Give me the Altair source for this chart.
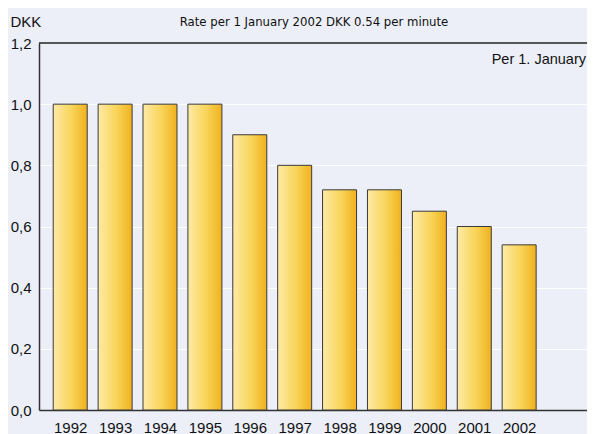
import altair as alt
import pandas as pd

years = [1992, 1993, 1994, 1995, 1996, 1997, 1998, 1999, 2000, 2001, 2002]
rates = [1.00, 1.00, 1.00, 1.00, 0.90, 0.80, 0.72, 0.72, 0.65, 0.60, 0.54]
y_ticks = [0.0, 0.2, 0.4, 0.6, 0.8, 1.0, 1.2]

df = pd.DataFrame({"year": years, "rate": rates})

BG = "#ECEFF7"
FONT = "Liberation Sans"
W, H = 548, 367

xscale = alt.Scale(domain=[1991.416, 2003.40], nice=False, zero=False)
yscale = alt.Scale(domain=[0, 1.2], nice=False)

grad = alt.Gradient(
    gradient="linear",
    stops=[
        alt.GradientStop(color="#FDEAA6", offset=0),
        alt.GradientStop(color="#F8D458", offset=0.55),
        alt.GradientStop(color="#F0B11E", offset=1),
    ],
    x1=0, x2=1, y1=0, y2=0,
)

bars = alt.Chart(df).mark_bar(width=34, color=grad, stroke="#3a3a3a", strokeWidth=1).encode(
    x=alt.X("year:Q", scale=xscale,
            axis=alt.Axis(values=years, format="d", title=None, grid=False, ticks=False,
                          domainColor="#333333", domainWidth=1.5, labelPadding=10,
                          labelFontSize=15, labelColor="#111111", labelFont=FONT)),
    y=alt.Y("rate:Q", scale=yscale,
            axis=alt.Axis(values=y_ticks, title="DKK", titleAngle=0, titleX=-29, titleY=-22,
                          titleAlign="left", titleBaseline="middle", titleFontSize=15,
                          titleFontWeight="normal", titleFont=FONT, titleColor="#111111",
                          labelExpr="replace(format(datum.value, '.1f'), '.', ',')",
                          grid=True, gridColor="#FFFFFF", gridWidth=1.2, ticks=False,
                          domainColor="#333333", domainWidth=1.5, labelPadding=8,
                          labelFontSize=15, labelColor="#111111", labelFont=FONT)),
)

top = alt.Chart(pd.DataFrame({"v": [1.2]})).mark_rule(color="#222222", strokeWidth=1.5).encode(
    y=alt.Y("v:Q", scale=yscale)
)

note = alt.Chart(pd.DataFrame({"t": ["Per 1. January"]})).mark_text(
    align="right", baseline="middle", fontSize=14.5, font=FONT, color="#111111"
).encode(text="t:N", x=alt.value(W - 1), y=alt.value(17))

sub = alt.Chart(pd.DataFrame({"t": ["Rate per 1 January 2002 DKK 0.54 per minute"]})).mark_text(
    align="center", baseline="middle", fontSize=13,
    font="'DejaVu Sans Condensed', 'Liberation Sans', sans-serif", color="#111111"
).encode(text="t:N", x=alt.value(275), y=alt.value(-21))

chart = alt.layer(bars, top, note, sub).properties(
    width=W, height=H,
    padding={"left": 31, "top": 35, "right": 0, "bottom": 24},
    autosize=alt.AutoSizeParams(type="none"),
    background=BG,
).configure_view(stroke=None, fill=BG)

chart.save("out.html", embed_options={"renderer": "svg", "actions": False})
